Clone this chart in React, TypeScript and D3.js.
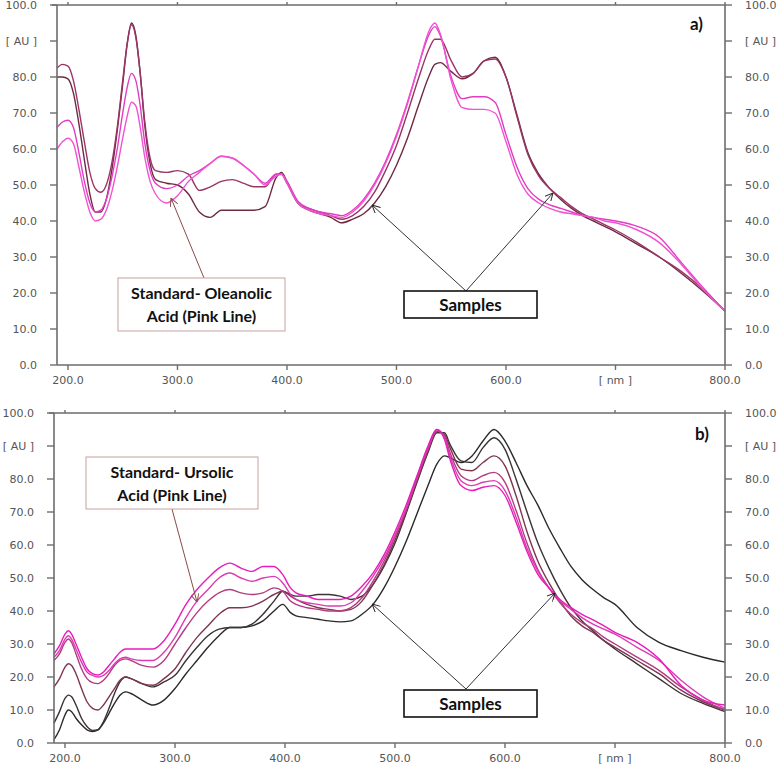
import React from "react";
import * as d3 from "d3";

const W = 778;
const H = 766;

const Y_TICKS = [0, 10, 20, 30, 40, 50, 60, 70, 80, 90, 100];
const Y_LABELS = ["0.0", "10.0", "20.0", "30.0", "40.0", "50.0", "60.0", "70.0", "80.0", "[ AU ]", "100.0"];
const X_TICKS = [200, 300, 400, 500, 600, 700, 800];
const X_LABELS = ["200.0", "300.0", "400.0", "500.0", "600.0", "[ nm ]", "800.0"];

// ---------- Panel a ----------
const A_NM = [190, 195, 200, 205, 210, 215, 220, 225, 230, 235, 240, 245, 250, 254, 258, 262, 266, 270, 275, 280, 290, 300, 310, 320, 330, 340, 350, 360, 370, 380, 390, 395, 400, 410, 420, 430, 440, 450, 460, 470, 480, 490, 500, 510, 520, 530, 535, 540, 550, 560, 570, 580, 590, 600, 610, 620, 630, 640, 650, 660, 670, 680, 690, 700, 720, 740, 760, 780, 800];
const A_MAROON = [82.5, 83.5, 83, 79, 71, 62, 53.5, 49, 48, 50, 56, 66, 79, 89, 94.5, 91, 81, 68, 57.5, 54, 53.5, 54, 53, 48.5, 49.5, 51, 51.5, 50.5, 49.5, 49.5, 53, 53, 50.5, 45, 43.5, 42.5, 41.5, 40.5, 41.5, 44, 48, 54, 61, 70, 79.5, 88, 90.5, 90.5, 84.5, 80, 81, 84.5, 85, 80, 69, 58.5, 52.5, 49, 46.5, 44, 42, 40.5, 39, 37.5, 34, 30, 26, 21, 15];
const A_DARK = [80, 80, 79.5, 75.5, 67, 57, 47.5, 42.5, 42.5, 46, 54, 65, 78, 89, 95, 91.5, 81, 67, 56, 51.5, 50.5, 50, 47.5, 42.5, 41, 43, 43, 43, 43, 44, 52, 53.5, 51, 45, 43, 42, 41, 39.5, 40.5, 42, 45, 49.5, 55.5, 63, 72, 80.5, 83.5, 84, 81.5, 79.5, 81, 84.5, 85.5, 80, 69.5, 59, 53, 49, 46, 43.5, 41.5, 40, 38.5, 37, 33.5, 30, 25.5, 20.5, 15];
const A_PINK = [66, 67.5, 68, 66, 59, 51, 45, 42.5, 43, 46, 52, 60, 70, 77, 81, 79, 72, 62, 54, 50.5, 49, 50, 52.5, 54, 56, 58, 57.5, 55.5, 53, 50.5, 53, 53, 51, 45.5, 43.5, 42.5, 42, 41.5, 43, 46, 50.5, 56.5, 64, 73, 83, 92, 94, 91.5, 80, 74, 74.5, 74.5, 73, 64, 55, 49, 46, 44.5, 43.5, 42.5, 41.5, 41, 40.5, 40, 38.5, 35.5, 28.5, 21.5, 15];
const A_MAGENTA = [60, 62, 63, 61.5, 55, 48, 42.5, 40, 40.5, 43, 48, 55, 63, 69, 73, 72, 66, 58, 51, 47.5, 45, 47, 51, 53.5, 56, 58, 57.5, 55.5, 53, 50, 52.5, 53, 50.5, 45, 43, 42, 41.5, 41, 42.5, 45.5, 50, 56, 63.5, 72.5, 83, 93, 95, 92, 79, 71.5, 71, 71, 70, 62, 53, 47.5, 45, 43.5, 42.5, 42, 41.5, 41, 40, 39.5, 37.5, 34, 28, 21, 15];

// ---------- Panel b ----------
const B_NM = [190, 195, 200, 203, 206, 210, 215, 220, 225, 230, 235, 240, 245, 250, 255, 260, 270, 280, 290, 300, 310, 320, 330, 340, 350, 360, 370, 380, 390, 398, 405, 410, 420, 430, 440, 450, 460, 470, 480, 490, 500, 510, 520, 530, 538, 545, 550, 560, 570, 580, 590, 600, 610, 620, 630, 640, 650, 660, 670, 680, 690, 700, 720, 740, 760, 780, 800];
const B_MAGENTA = [27, 29.5, 33, 34, 33, 30, 26, 22.5, 21, 20.6, 21.5, 23.5, 25.5, 27.5, 28.5, 28.5, 28.5, 28.5, 31, 36, 42, 46.5, 50, 53, 54.5, 53, 52, 53.5, 53.5, 51, 47, 45.5, 44.5, 43.5, 43.5, 43.5, 44.5, 47.5, 51.5, 57, 64, 72, 81, 90, 95, 92, 86, 78, 76.5, 77.5, 78, 75, 67, 58, 51, 47, 43.5, 41, 39, 37.3, 35.5, 33.5, 30.5, 25.5, 17.5, 13, 11.5];
const B_PINK = [26, 28, 31.5, 32.5, 31.5, 28.5, 24.5, 21.5, 20.5, 20, 20.5, 22, 24, 25.5, 26, 25.5, 25, 25, 27.5, 32, 38, 43, 46.5, 50, 51.5, 50, 49, 50, 50.5, 48.5, 45, 43.5, 42.5, 42, 41.5, 41.5, 42.5, 46, 50.5, 56, 63, 71, 80.5, 89.5, 95, 92.5, 87, 79.5, 78, 79, 79.5, 76.5, 68.5, 59, 52, 47, 43, 40.5, 38, 36, 34.5, 33, 29, 25, 19, 14, 10.5];
const B_MAUVE = [25, 27, 30.5, 31.5, 30.5, 27, 22.5, 19.5, 18.3, 18, 19, 21, 23.5, 25, 25.5, 25, 23.5, 23, 25, 30, 35, 39.5, 43, 45.5, 46.5, 45.5, 45, 45.5, 47, 46, 43, 42, 41, 40.5, 40, 40, 41, 44, 49, 55, 62.5, 70.5, 80, 89, 94.5, 93, 88, 81, 79.5, 81, 82, 79, 70.5, 60.5, 52.5, 47, 42.5, 39, 36.5, 34.5, 32, 30, 26, 22, 17, 13, 10];
const B_MAROON = [17, 19.5, 23, 24, 23.5, 21, 16.5, 12.5, 10.5, 10, 11.5, 14, 16.5, 19, 20, 19.5, 18, 17.5, 19.5, 22.5, 27.5, 32, 35.5, 39, 41, 41, 41.5, 43, 45, 46, 44.5, 43.5, 42, 41, 40.5, 40, 40.5, 43, 48, 54, 61.5, 70, 79.5, 88.5, 94.5, 93.5, 89.5, 83, 82.5, 85, 87, 84, 75, 64, 55, 48.5, 43, 38.5, 35.5, 33.5, 31, 29, 25, 21, 16, 12.5, 10];
const B_BLACK1 = [6, 9.5, 13.5, 14.5, 14, 11.5, 7.5, 5, 3.8, 4, 6.5, 10.5, 15, 18.5, 20, 19.5, 18, 17, 18.5, 20.5, 25, 29, 32.5, 34.5, 35, 35, 36, 39, 43, 46, 45, 44.5, 44.5, 45, 45, 44.5, 43.5, 44.5, 48, 53.5, 60.5, 69.5, 79, 88, 94, 94, 90.5, 85.5, 85, 89.5, 92.5, 89, 80, 70, 60.5, 53, 46.5, 41, 37, 34, 31, 28.5, 24, 19.5, 15, 12, 9.5];
const B_BLACK2 = [1, 4, 8.5, 10, 9.5, 7.5, 5.5, 4, 3.5, 4, 6, 9, 12, 14.5, 15.5, 15, 13, 11.5, 13, 16.5, 21, 25, 29, 32.5, 35, 35, 35.5, 37, 40, 42, 39.5, 38.5, 38, 37.5, 37, 36.7, 37, 39, 42, 47, 53.5, 61, 69.5, 78, 84.5, 87, 86.5, 85, 87, 91.5, 95, 91.5, 85, 78, 72, 65, 59, 53.5, 49.5, 46.5, 44, 42, 35, 30.5, 28, 26, 24.5];

const A_SERIES = [
  { values: A_DARK, color: "#6e2a42" },
  { values: A_MAROON, color: "#9a3466" },
  { values: A_PINK, color: "#e23cc4" },
  { values: A_MAGENTA, color: "#f052d2" },
];
const B_SERIES = [
  { values: B_BLACK2, color: "#2a2a2a" },
  { values: B_BLACK1, color: "#3c3434" },
  { values: B_MAROON, color: "#7e3552" },
  { values: B_MAUVE, color: "#b23c80" },
  { values: B_PINK, color: "#dc3cb0" },
  { values: B_MAGENTA, color: "#e81cbc" },
];

const AXIS = "#6d6d6d";
const TICKFONT = "'DejaVu Sans', sans-serif";
const NOTEFONT = "Lato, 'Open Sans', sans-serif";

type PanelProps = {
  left: number;
  right: number;
  top: number;
  bottom: number;
  nm: number[];
  series: { values: number[]; color: string }[];
};

function Panel({ left, right, top, bottom, nm, series }: PanelProps) {
  const x = d3.scaleLinear().domain([190, 800]).range([left, right]);
  const y = d3.scaleLinear().domain([0, 100]).range([bottom, top]);
  const line = d3
    .line<number>()
    .x((_, i) => x(nm[i]))
    .y((v) => y(v))
    .curve(d3.curveMonotoneX);
  return (
    <g>
      {series.map((s, i) => (
        <path key={i} d={line(s.values) || ""} fill="none" stroke={s.color} strokeWidth={1.4} strokeLinejoin="round" />
      ))}
      <line x1={left} x2={left} y1={top} y2={bottom} stroke={AXIS} strokeWidth={1.6} />
      <line x1={right} x2={right} y1={top} y2={bottom} stroke={AXIS} strokeWidth={1.6} />
      <line x1={left - 5} x2={right} y1={top} y2={top} stroke={AXIS} strokeWidth={1.6} />
      <line x1={left} x2={right} y1={bottom} y2={bottom} stroke={AXIS} strokeWidth={1.6} />
      {Y_TICKS.map((t, i) => (
        <g key={"y" + t}>
          <line x1={left - 7} x2={left} y1={y(t)} y2={y(t)} stroke={AXIS} strokeWidth={1.4} />
          <line x1={right} x2={right + 7} y1={y(t)} y2={y(t)} stroke={AXIS} strokeWidth={1.4} />
          <text x={left - 20} y={y(t) + 4} textAnchor="end" fontFamily={TICKFONT} fontSize={11} fill="#555">
            {Y_LABELS[i]}
          </text>
          <text x={right + 20} y={y(t) + 4} textAnchor="start" fontFamily={TICKFONT} fontSize={11} fill="#555">
            {Y_LABELS[i]}
          </text>
        </g>
      ))}
      {X_TICKS.map((t, i) => (
        <g key={"x" + t}>
          <line x1={x(t)} x2={x(t)} y1={bottom} y2={bottom + 5} stroke={AXIS} strokeWidth={1.4} />
          <line x1={x(t)} x2={x(t)} y1={top} y2={top - 3} stroke={AXIS} strokeWidth={1.4} />
          <text x={x(t)} y={bottom + 19} textAnchor="middle" fontFamily={TICKFONT} fontSize={11} fill="#555">
            {X_LABELS[i]}
          </text>
        </g>
      ))}
    </g>
  );
}

function Note({ x, y, w, h, lines, stroke, size, sw }: { x: number; y: number; w: number; h: number; lines: string[]; stroke: string; size: number; sw: number }) {
  const cx = x + w / 2;
  const baselines = lines.length > 1 ? [y + 21, y + 44] : [y + h / 2 + size * 0.36];
  return (
    <g>
      <rect x={x} y={y} width={w} height={h} fill="#fff" stroke={stroke} strokeWidth={sw} />
      {lines.map((l, i) => (
        <text key={i} x={cx} y={baselines[i]} textAnchor="middle" fontFamily={NOTEFONT} fontWeight={700} fontSize={size} fill="#111">
          {l}
        </text>
      ))}
    </g>
  );
}

export default function App() {
  return (
    <svg width={W} height={H} viewBox={`0 0 ${W} ${H}`} style={{ position: "absolute", left: 0, top: 0, background: "#fff" }}>
      <defs>
        <marker id="arrK" viewBox="0 0 10 10" refX="10" refY="5" markerWidth="8" markerHeight="8" orient="auto-start-reverse" markerUnits="userSpaceOnUse">
          <path d="M0,0 L10,5 L0,10" fill="none" stroke="#222" strokeWidth={1.2} />
        </marker>
        <marker id="arrB" viewBox="0 0 10 10" refX="10" refY="5" markerWidth="8" markerHeight="8" orient="auto-start-reverse" markerUnits="userSpaceOnUse">
          <path d="M0,0 L10,5 L0,10" fill="none" stroke="#8b4a4a" strokeWidth={1.2} />
        </marker>
      </defs>
      <rect width={W} height={H} fill="#fff" />

      <Panel left={57} right={725} top={5} bottom={365} nm={A_NM} series={A_SERIES} />
      <Panel left={54} right={725} top={413} bottom={743} nm={B_NM} series={B_SERIES} />

      <text x={690} y={30} fontFamily={NOTEFONT} fontWeight={700} fontSize={17} fill="#111">a)</text>
      <text x={695} y={440} fontFamily={NOTEFONT} fontWeight={700} fontSize={17} fill="#111">b)</text>

      {/* panel a annotations */}
      <line x1={204} y1={278} x2={171} y2={198} stroke="#8b4a4a" strokeWidth={1} markerEnd="url(#arrB)" />
      <Note x={118} y={278} w={167} h={53} lines={["Standard- Oleanolic", "Acid (Pink Line)"]} stroke="#c9a0a0" size={16} sw={1} />
      <line x1={466} y1={291} x2={372} y2={205} stroke="#333" strokeWidth={1} markerEnd="url(#arrK)" />
      <line x1={466} y1={291} x2={553} y2={193} stroke="#333" strokeWidth={1} markerEnd="url(#arrK)" />
      <Note x={404} y={291} w={133} h={27} lines={["Samples"]} stroke="#111" size={17} sw={1.6} />

      {/* panel b annotations */}
      <line x1={172} y1={509} x2={197} y2={602} stroke="#8b4a4a" strokeWidth={1} markerEnd="url(#arrB)" />
      <Note x={86} y={457} w={172} h={52} lines={["Standard- Ursolic", "Acid (Pink Line)"]} stroke="#c9a0a0" size={16} sw={1} />
      <line x1={466} y1={689} x2={372} y2={604} stroke="#333" strokeWidth={1} markerEnd="url(#arrK)" />
      <line x1={466} y1={689} x2={555} y2={593} stroke="#333" strokeWidth={1} markerEnd="url(#arrK)" />
      <Note x={404} y={690} w={133} h={27} lines={["Samples"]} stroke="#111" size={17} sw={1.6} />
    </svg>
  );
}
